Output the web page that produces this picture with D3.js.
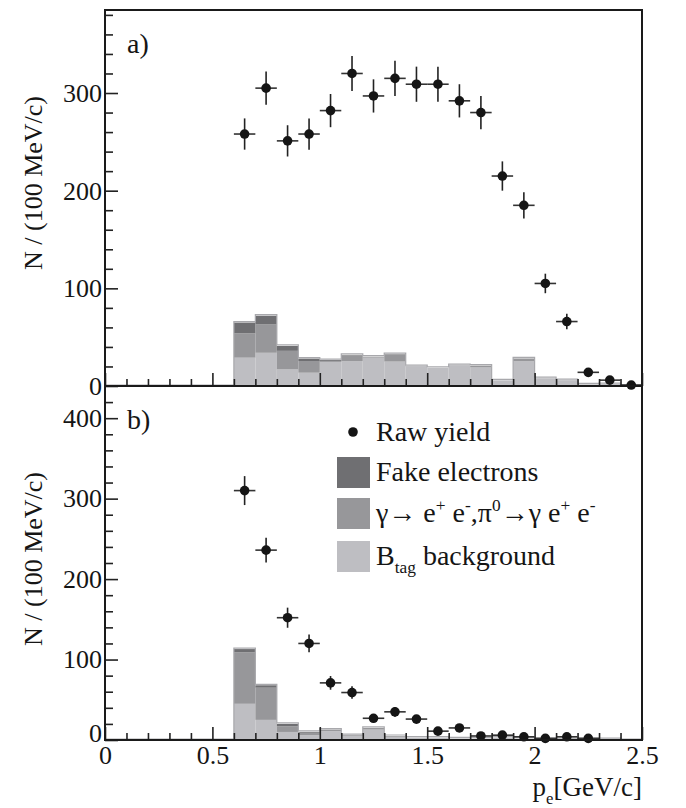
<!DOCTYPE html>
<html>
<head>
<meta charset="utf-8">
<script src="https://cdn.jsdelivr.net/npm/d3@7"></script>
<style>
  body { margin: 0; background: #fff; }
  text { font-family: "Liberation Serif", "DejaVu Serif", serif; fill: #151515; }
</style>
</head>
<body>
<svg id="chart"></svg>
<script>
const width = 686;
const height = 808;

// histogram bins (lower edges, 100 MeV/c wide)
const binStart = [0.0, 0.1, 0.2, 0.3, 0.4, 0.5, 0.6, 0.7, 0.8, 0.9, 1.0, 1.1, 1.2,
  1.3, 1.4, 1.5, 1.6, 1.7, 1.8, 1.9, 2.0, 2.1, 2.2, 2.3, 2.4];

// panel a) backgrounds
const btagA = [0, 0, 0, 0, 0, 0, 29, 34, 17, 13.6, 25, 25.5, 29, 25, 20, 18.5, 21, 19, 5.8, 25.5, 8, 6, 1.7, 2, 0];
const gammaA = [0, 0, 0, 0, 0, 0, 25, 29, 19, 12, 0, 6, 1, 7.6, 0.4, 0, 0.4, 2, 0, 2.7, 0, 0, 0, 0, 0];
const fakeA = [0, 0, 0, 0, 0, 0, 11, 9, 5, 2.5, 1.5, 0.5, 0, 0, 0, 0, 0, 0, 0, 0, 0, 0, 0, 0, 0];

// panel a) raw yield
const centersA = [0.65, 0.75, 0.85, 0.95, 1.05, 1.15, 1.25, 1.35, 1.45, 1.55, 1.65, 1.75,
  1.85, 1.95, 2.05, 2.15, 2.25, 2.35, 2.45];
const rawA = [258, 305, 251, 258, 282, 320, 297, 315, 309, 309, 292, 280, 215, 185, 105, 66, 14, 6, 1];
const errA = [16, 17, 16, 16, 17, 18, 17, 18, 18, 18, 17, 17, 15, 13.5, 10, 8, 4, 2.5, 1];

// panel b) backgrounds
const btagB = [0, 0, 0, 0, 0, 0, 45, 25, 10, 6, 11, 5, 13, 4, 3, 3, 2, 2, 3, 2, 1, 1, 1, 1, 0];
const gammaB = [0, 0, 0, 0, 0, 0, 64, 40, 7, 3, 2, 1, 2, 1, 0, 0, 0, 0, 0, 0, 0, 0, 0, 0, 0];
const fakeB = [0, 0, 0, 0, 0, 0, 4, 3, 3, 1, 0, 0, 0, 0, 0, 0, 0, 0, 0, 0, 0, 0, 0, 0, 0];

// panel b) raw yield
const centersB = [0.65, 0.75, 0.85, 0.95, 1.05, 1.15, 1.25, 1.35, 1.45, 1.55, 1.65, 1.75,
  1.85, 1.95, 2.05, 2.15, 2.25];
const rawB = [310, 236, 152, 120, 71, 59, 27, 35, 26, 11, 15, 5, 6, 4, 2, 4, 2];
const errB = [18, 15.5, 12.5, 11, 8.5, 7.7, 5.2, 6, 5, 3.3, 3.9, 2.2, 2.4, 2, 1.4, 2, 1.4];

const xMajor = [0, 0.5, 1, 1.5, 2, 2.5];
const xMinor = d3.range(0, 25).map((i) => i / 10).filter((v) => !xMajor.includes(v));
const yMajorA = [0, 100, 200, 300];
const yMajorB = [0, 100, 200, 300, 400];

const colors = { btag: '#bebec2', gamma: '#97979a', fake: '#6f6f72' };
const keys = ['btag', 'gamma', 'fake'];

const svg = d3
  .select('#chart')
  .attr('width', width)
  .attr('height', height);

const left = 105;
const right = 642;

const x = d3.scaleLinear().domain([0, 2.5]).range([left, right]);

function drawPanel(opt) {
  const y = d3.scaleLinear().domain([0, opt.ymax]).range([opt.bottom, opt.top]);
  const g = svg.append('g');

  // stacked background histogram
  const rows = binStart.map((b, i) => ({
    x0: b,
    btag: opt.btag[i],
    gamma: opt.gamma[i],
    fake: opt.fake[i],
  }));
  const stacked = d3.stack().keys(keys)(rows);

  g.append('g')
    .selectAll('g')
    .data(stacked)
    .join('g')
    .attr('fill', (s) => colors[s.key])
    .selectAll('rect')
    .data((s) => s)
    .join('rect')
    .attr('x', (d) => x(d.data.x0))
    .attr('width', (d) => x(d.data.x0 + 0.1) - x(d.data.x0))
    .attr('y', (d) => y(d[1]))
    .attr('height', (d) => y(d[0]) - y(d[1]));

  // outline of total
  const step = d3
    .line()
    .curve(d3.curveStepAfter)
    .x((d) => x(d.x0))
    .y((d) => y(d.btag + d.gamma + d.fake));
  g.append('path')
    .datum(rows.concat([{ x0: 2.5, btag: 0, gamma: 0, fake: 0 }]))
    .attr('d', step)
    .attr('fill', 'none')
    .attr('stroke', '#a8a8ac')
    .attr('stroke-width', 1.2)
    .attr('transform', 'translate(0,-1)');

  // raw yield points with error bars
  const pts = opt.centers.map((c, i) => ({ c, v: opt.raw[i], e: opt.err[i] }));
  const pg = g.append('g');
  pg.selectAll('.hbar')
    .data(pts)
    .join('line')
    .attr('x1', (d) => x(d.c - 0.05))
    .attr('x2', (d) => x(d.c + 0.05))
    .attr('y1', (d) => y(d.v))
    .attr('y2', (d) => y(d.v))
    .attr('stroke', '#333')
    .attr('stroke-width', 1.6);
  pg.selectAll('.vbar')
    .data(pts)
    .join('line')
    .attr('x1', (d) => x(d.c))
    .attr('x2', (d) => x(d.c))
    .attr('y1', (d) => y(Math.max(0, d.v - d.e)))
    .attr('y2', (d) => y(d.v + d.e))
    .attr('stroke', '#222')
    .attr('stroke-width', 1.6);
  pg.selectAll('circle')
    .data(pts)
    .join('circle')
    .attr('cx', (d) => x(d.c))
    .attr('cy', (d) => y(d.v))
    .attr('r', 4.8)
    .attr('fill', '#151515');

  // axes, ticks pointing inward
  const tickStyle = (sel) => {
    sel.select('.domain').remove();
    sel.selectAll('line').attr('stroke', '#222').attr('stroke-width', 1.6);
    sel.selectAll('text')
      .style('font-family', '"Liberation Serif", serif')
      .style('font-size', '26px')
      .attr('fill', '#151515');
  };

  g.append('g')
    .attr('transform', `translate(0,${opt.bottom})`)
    .call(d3.axisBottom(x).tickValues(xMinor).tickSize(-7).tickFormat(''))
    .call(tickStyle);
  g.append('g')
    .attr('transform', `translate(0,${opt.bottom})`)
    .call(
      d3.axisBottom(x)
        .tickValues(xMajor)
        .tickSize(-13)
        .tickPadding(6)
        .tickFormat((d) => (opt.xLabels ? d : ''))
    )
    .call(tickStyle);

  const yMinor = d3.range(0, opt.ymax, 20).filter((v) => v % 100 !== 0);
  g.append('g')
    .attr('transform', `translate(${left},0)`)
    .call(d3.axisLeft(y).tickValues(yMinor).tickSize(-8).tickFormat(''))
    .call(tickStyle);
  const yAx = g.append('g')
    .attr('transform', `translate(${left},0)`)
    .call(d3.axisLeft(y).tickValues(opt.yMajor).tickSize(-13).tickPadding(3))
    .call(tickStyle);

  // lift the zero label clear of the x labels underneath
  if (opt.xLabels) {
    yAx.selectAll('.tick')
      .filter((d) => d === 0)
      .select('text')
      .attr('dy', '0.05em');
  }

  // frame
  g.append('rect')
    .attr('x', left)
    .attr('y', opt.top)
    .attr('width', right - left)
    .attr('height', opt.bottom - opt.top)
    .attr('fill', 'none')
    .attr('stroke', '#1a1a1a')
    .attr('stroke-width', 2);

  // panel label
  g.append('text')
    .attr('x', 127)
    .attr('y', opt.top + 43)
    .style('font-size', '28px')
    .text(opt.label);

  // y title
  g.append('text')
    .attr('transform', `translate(42,${opt.top + 86}) rotate(-90)`)
    .attr('text-anchor', 'end')
    .style('font-size', '26px')
    .text('N / (100 MeV/c)');

  return y;
}

drawPanel({
  top: 10,
  bottom: 386,
  ymax: 385,
  yMajor: yMajorA,
  btag: btagA,
  gamma: gammaA,
  fake: fakeA,
  centers: centersA,
  raw: rawA,
  err: errA,
  label: 'a)',
  xLabels: false,
});

drawPanel({
  top: 386,
  bottom: 740,
  ymax: 440,
  yMajor: yMajorB,
  btag: btagB,
  gamma: gammaB,
  fake: fakeB,
  centers: centersB,
  raw: rawB,
  err: errB,
  label: 'b)',
  xLabels: true,
});

// rich text helper: parts of [text, 'sup' | 'sub' | null]
function richText(sel, parts, size) {
  let shift = 0;
  parts.forEach(([t, kind]) => {
    const target = kind === 'sup' ? -size * 0.4 : kind === 'sub' ? size * 0.28 : 0;
    sel.append('tspan')
      .attr('dy', target - shift)
      .style('font-size', kind ? size * 0.62 + 'px' : size + 'px')
      .text(t);
    shift = target;
  });
}

// legend
const legend = svg.append('g');
const legendRows = [
  { kind: 'dot', y: 432, parts: [['Raw yield', null]] },
  { kind: 'fake', y: 472, parts: [['Fake electrons', null]] },
  {
    kind: 'gamma',
    y: 513,
    parts: [
      ['γ→ e', null], ['+', 'sup'], [' e', null], ['-', 'sup'], [',π', null], ['0', 'sup'],
      ['→γ e', null], ['+', 'sup'], [' e', null], ['-', 'sup'],
    ],
  },
  { kind: 'btag', y: 556, parts: [['B', null], ['tag', 'sub'], [' background', null]] },
];

legendRows.forEach((r) => {
  if (r.kind === 'dot') {
    legend.append('circle').attr('cx', 353).attr('cy', r.y).attr('r', 4.8).attr('fill', '#151515');
  } else {
    legend.append('rect')
      .attr('x', 337)
      .attr('y', r.y - 15)
      .attr('width', 33)
      .attr('height', 31)
      .attr('fill', colors[r.kind]);
  }
  const t = legend.append('text').attr('x', 376).attr('y', r.y + 9);
  richText(t, r.parts, 28);
});

// x title
const xt = svg.append('text')
  .attr('x', right)
  .attr('y', 796)
  .attr('text-anchor', 'end');
richText(xt, [['p', null], ['e', 'sub'], ['[GeV/c]', null]], 27);
</script>
</body>
</html>
